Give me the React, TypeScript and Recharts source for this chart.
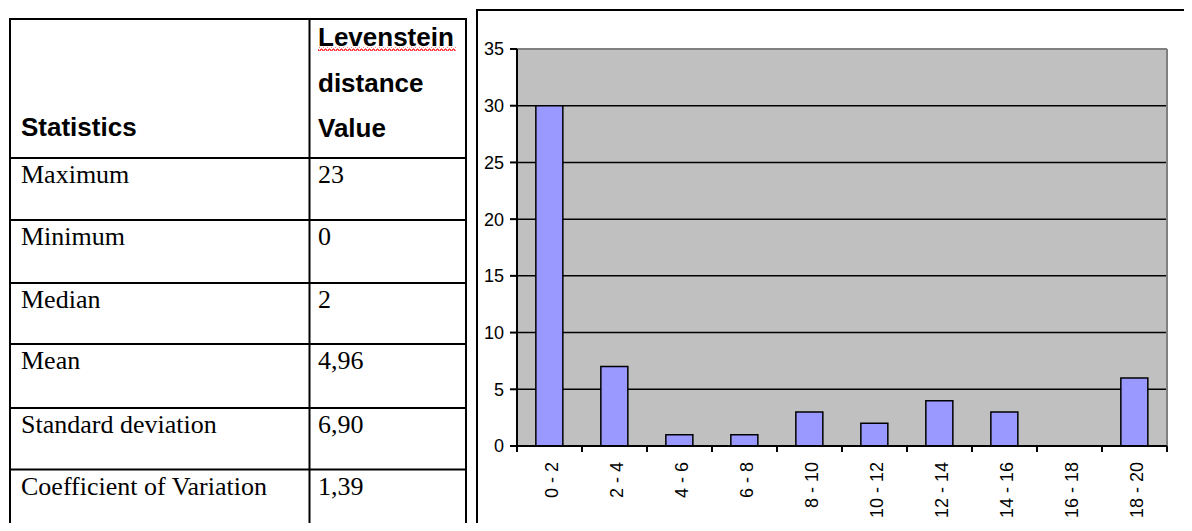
import React from 'react';
import { BarChart, Bar, XAxis, YAxis, CartesianGrid, ReferenceLine } from 'recharts';

// ---- data ----
const headerLeft = 'Statistics';
const headerRight = ['Levenstein', 'distance', 'Value'];
const statNames = ['Maximum', 'Minimum', 'Median', 'Mean', 'Standard deviation', 'Coefficient of Variation'];
const statValues = ['23', '0', '2', '4,96', '6,90', '1,39'];

const binLabels = ['0 - 2', '2 - 4', '4 - 6', '6 - 8', '8 - 10', '10 - 12', '12 - 14', '14 - 16', '16 - 18', '18 - 20'];
const binCounts = [30, 7, 1, 1, 3, 2, 4, 3, 0, 6];
const yTicks = [0, 5, 10, 15, 20, 25, 30, 35];

const data = binLabels.map((bin, i) => ({ bin, count: binCounts[i] }));

const SANS = '"Liberation Sans", Arial, sans-serif';
const SERIF = '"Liberation Serif", "Times New Roman", serif';

// chart layout
const CHART_W = 714;
const CHART_H = 520;
const MARGIN = { top: 38, right: 25, left: 0, bottom: 0 };
const Y_AXIS_W = 39;
const PLOT_W = CHART_W - MARGIN.left - MARGIN.right - Y_AXIS_W;
const HALF_BAND = PLOT_W / binLabels.length / 2;

// table geometry (layout only)
const rowLines = [158, 220, 283, 344, 408, 469.5];
const tableTop = 19;
const tableBottom = 530;
const tableLeft = 10;
const tableRight = 466;
const colDivider = 309.5;

const BinTick = (props: any) => {
  const { x, y, payload, index } = props;
  const isLast = index === binLabels.length - 1;
  return (
    <g transform={`translate(${x},${y})`}>
      <line x1={-HALF_BAND} x2={-HALF_BAND} y1={0} y2={6} stroke="#000" strokeWidth={2} />
      {isLast && <line x1={HALF_BAND} x2={HALF_BAND} y1={0} y2={6} stroke="#000" strokeWidth={2} />}
      <text
        transform="rotate(-90)"
        x={-16}
        y={2}
        dy="0.35em"
        textAnchor="end"
        fontSize={18}
        fontFamily={SANS}
        fill="#000"
      >
        {payload.value}
      </text>
    </g>
  );
};

const StatsTable = () => (
  <svg width={477} height={531} style={{ position: 'absolute', left: 0, top: 0 }}>
    <defs>
      <pattern id="wave" x={0} y={0} width={4} height={4} patternUnits="userSpaceOnUse">
        <path d="M0 3 L1 1 L2 1 L3 3 L4 3" fill="none" stroke="#ff0000" strokeWidth={1} />
      </pattern>
    </defs>
    {[tableTop, ...rowLines, tableBottom].map((y, i) => (
      <line key={'h' + i} x1={tableLeft - 1} x2={tableRight + 1} y1={y} y2={y} stroke="#000" strokeWidth={2} />
    ))}
    {[tableLeft, colDivider, tableRight].map((x, i) => (
      <line key={'v' + i} x1={x} x2={x} y1={tableTop - 1} y2={531} stroke="#000" strokeWidth={2} />
    ))}
    <text x={21} y={136} fontFamily={SANS} fontWeight="bold" fontSize={26} fill="#000">{headerLeft}</text>
    {headerRight.map((t, i) => (
      <text key={t} x={318} y={46 + i * 45.5} fontFamily={SANS} fontWeight="bold" fontSize={26} fill="#000">{t}</text>
    ))}
    <rect x={318} y={47} width={138} height={4} fill="url(#wave)" />
    {statNames.map((name, i) => (
      <g key={name}>
        <text x={21} y={rowLines[i] + 25} fontFamily={SERIF} fontSize={26} fill="#000">{name}</text>
        <text x={318} y={rowLines[i] + 25} fontFamily={SERIF} fontSize={26} fill="#000">{statValues[i]}</text>
      </g>
    ))}
  </svg>
);

export default function App() {
  return (
    <div style={{ position: 'relative', width: 1192, height: 531, margin: -8, overflow: 'hidden', background: '#fff' }}>
      <StatsTable />
      <div
        style={{
          position: 'absolute',
          left: 476,
          top: 9,
          width: 716,
          height: 522,
          borderLeft: '2px solid #000',
          borderTop: '2px solid #000',
          boxSizing: 'border-box',
        }}
      >
        <BarChart
          width={CHART_W}
          height={CHART_H}
          data={data}
          margin={MARGIN}
          barCategoryGap="29%"
        >
          <XAxis
            dataKey="bin"
            height={85}
            interval={0}
            tick={<BinTick />}
            tickLine={false}
            tickSize={0}
            tickMargin={0}
            axisLine={{ stroke: '#000', strokeWidth: 2 }}
          />
          <YAxis
            domain={[0, 35]}
            ticks={yTicks}
            interval={0}
            allowDataOverflow
            width={Y_AXIS_W}
            tickSize={7}
            tickMargin={6}
            axisLine={{ stroke: '#000', strokeWidth: 2 }}
            tickLine={{ stroke: '#000', strokeWidth: 2 }}
            tick={{ fill: '#000', fontSize: 18, fontFamily: SANS }}
          />
          <CartesianGrid
            vertical={false}
            fill="#C0C0C0"
            fillOpacity={1}
            stroke="#000"
            strokeWidth={1.5}
          />
          <ReferenceLine y={35} stroke="#808080" strokeWidth={2} />
          <ReferenceLine x={binLabels[binLabels.length - 1]} position="end" stroke="#808080" strokeWidth={2} />
          <Bar
            dataKey="count"
            fill="#9999FF"
            stroke="#000"
            strokeWidth={1.5}
            isAnimationActive={false}
          />
        </BarChart>
      </div>
    </div>
  );
}
